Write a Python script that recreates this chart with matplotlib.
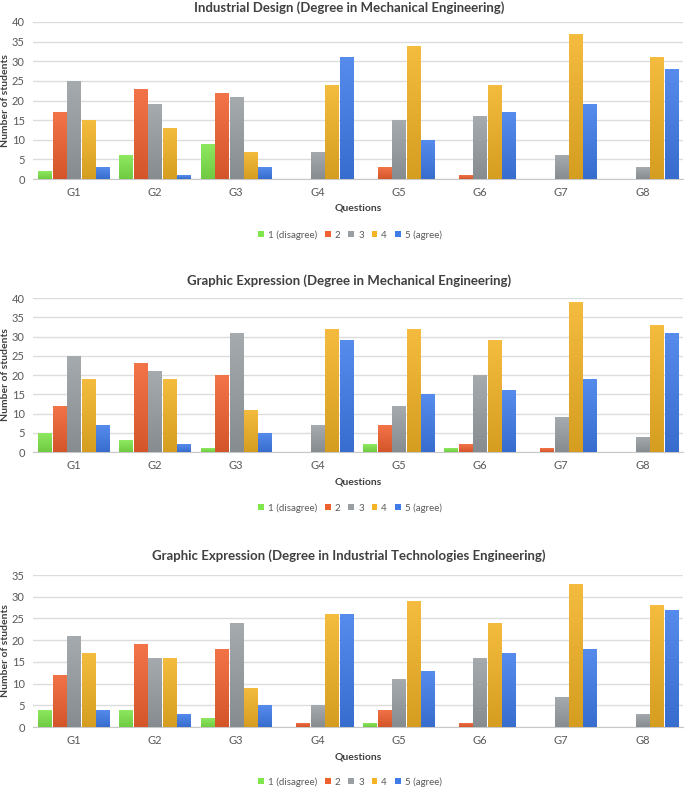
import matplotlib
matplotlib.use("Agg")
import matplotlib.pyplot as plt
import matplotlib.colors as mcolors
import numpy as np

plt.rcParams['font.family'] = ['Lato', 'DejaVu Sans']

questions = ["G1", "G2", "G3", "G4", "G5", "G6", "G7", "G8"]
series_labels = ["1 (disagree)", "2", "3", "4", "5 (agree)"]
colors = ["#7fe64b", "#f0612f", "#999fa3", "#f3b325", "#3f7cea"]

titles = [
    "Industrial Design (Degree in Mechanical Engineering)",
    "Graphic Expression (Degree in Mechanical Engineering)",
    "Graphic Expression (Degree in Industrial Technologies Engineering)",
]

# values[panel][series][question]
p1_s1 = [2, 6, 9, 0, 0, 0, 0, 0]
p1_s2 = [17, 23, 22, 0, 3, 1, 0, 0]
p1_s3 = [25, 19, 21, 7, 15, 16, 6, 3]
p1_s4 = [15, 13, 7, 24, 34, 24, 37, 31]
p1_s5 = [3, 1, 3, 31, 10, 17, 19, 28]

p2_s1 = [5, 3, 1, 0, 2, 1, 0, 0]
p2_s2 = [12, 23, 20, 0, 7, 2, 1, 0]
p2_s3 = [25, 21, 31, 7, 12, 20, 9, 4]
p2_s4 = [19, 19, 11, 32, 32, 29, 39, 33]
p2_s5 = [7, 2, 5, 29, 15, 16, 19, 31]

p3_s1 = [4, 4, 2, 0, 1, 0, 0, 0]
p3_s2 = [12, 19, 18, 1, 4, 1, 0, 0]
p3_s3 = [21, 16, 24, 5, 11, 16, 7, 3]
p3_s4 = [17, 16, 9, 26, 29, 24, 33, 28]
p3_s5 = [4, 3, 5, 26, 13, 17, 18, 27]

panels = [
    [p1_s1, p1_s2, p1_s3, p1_s4, p1_s5],
    [p2_s1, p2_s2, p2_s3, p2_s4, p2_s5],
    [p3_s1, p3_s2, p3_s3, p3_s4, p3_s5],
]
ymaxes = [40, 40, 35]

W, H = 685, 788
fig = plt.figure(figsize=(W / 100, H / 100), dpi=100)

# (top_px, bottom_px, title_px, xlabel_px, legend_px)
layout = [
    (22, 179, 8, 208, 235),
    (298, 452, 281, 482, 508),
    (575, 727, 556, 757, 782),
]
left_px, right_px = 33, 683

x = np.arange(len(questions))
step = 0.178
bw = 0.162
text_color = "#404040"
tick_color = "#595959"


def shade(c, f):
    rgb = np.array(mcolors.to_rgb(c))
    if f >= 0:
        return rgb + (1 - rgb) * f
    return rgb * (1 + f)


for vals, ymax, title, (top, bot, ty, xly, ly) in zip(panels, ymaxes, titles, layout):
    ax = fig.add_axes([left_px / W, 1 - bot / H, (right_px - left_px) / W, (bot - top) / H])
    handles = []
    for i, (s, c, lab) in enumerate(zip(vals, colors, series_labels)):
        h = ax.bar(x + (i - 2) * step, s, width=bw, color=c, label=lab, zorder=3)
        handles.append(h)
        top_c = shade(c, 0.12)
        bot_c = shade(c, -0.12)
        grad = np.linspace(0, 1, 64)[:, None, None]
        img = top_c * (1 - grad) + bot_c * grad
        for p in h.patches:
            if p.get_height() <= 0:
                continue
            x0, y0 = p.get_x(), p.get_y()
            im = ax.imshow(img, extent=(x0, x0 + p.get_width(), y0, y0 + p.get_height()),
                           aspect='auto', origin='upper', zorder=3.5, interpolation='bilinear')
            im.set_clip_path(p)
    ax.set_xlim(-0.5, len(questions) - 0.5)
    ax.set_ylim(0, ymax)
    ax.set_yticks(np.arange(0, ymax + 1, 5))
    ax.set_xticks(x)
    ax.set_xticklabels(questions)
    ax.grid(axis='y', color="#dcdcdc", linewidth=1, zorder=0)
    for sp in ['top', 'right', 'left']:
        ax.spines[sp].set_visible(False)
    ax.spines['bottom'].set_color("#c8c8c8")
    ax.tick_params(axis='both', length=0, labelsize=8, colors=tick_color)
    ax.tick_params(axis='y', pad=6)
    ax.tick_params(axis='x', pad=6)
    fig.text(6 / W, 1 - (top + bot) / 2 / H, "Number of students", rotation=90,
             ha='center', va='center', fontsize=7.5, fontweight='bold', color=text_color)
    fig.text(349 / W, 1 - ty / H, title, ha='center', va='center', fontsize=9.5,
             fontweight='bold', color=text_color)
    fig.text((left_px + right_px) / 2 / W, 1 - xly / H, "Questions", ha='center', va='center',
             fontsize=7.5, fontweight='bold', color=text_color)
    fig.legend(handles=handles, labels=series_labels, loc='center',
               bbox_to_anchor=(350 / W, 1 - ly / H), ncol=5, frameon=False,
               fontsize=7, handlelength=0.6, handleheight=0.6, handletextpad=0.4,
               columnspacing=0.8, labelcolor=tick_color)

fig.savefig("out.png", dpi=100)
